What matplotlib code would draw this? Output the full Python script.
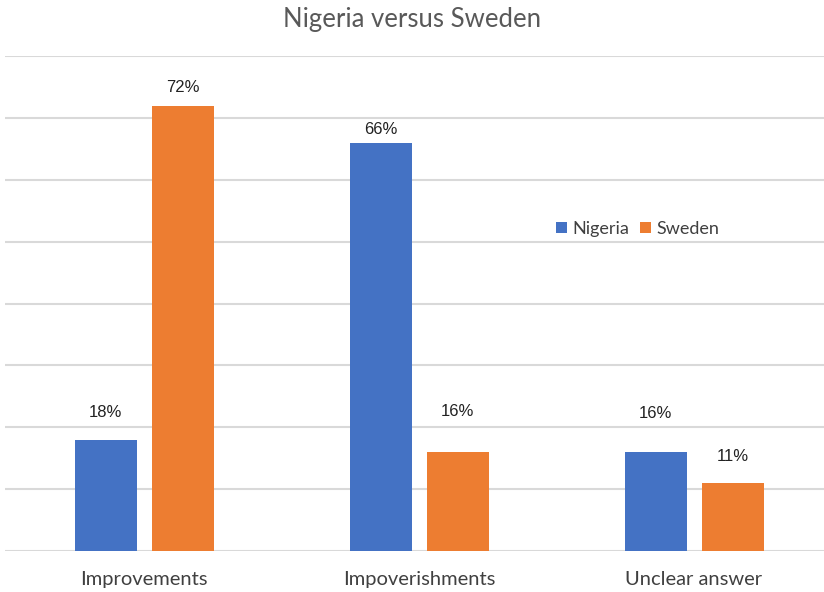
import numpy as np
import matplotlib.pyplot as plt

categories = ['Improvements', 'Impoverishments', 'Unclear answer']
nigeria = [0.18, 0.66, 0.16]
sweden = [0.72, 0.16, 0.11]
nigeria_labels = ['18%', '66%', '16%']
sweden_labels = ['72%', '16%', '11%']
# gap between bar top and label centre, pixels (labels were hand-placed)
nigeria_gap = [27, 13, 39]
sweden_gap = [18, 41, 26]

blue = '#4472C4'
orange = '#ED7D31'

fig = plt.figure(figsize=(8.24, 5.92), dpi=100)
ax = fig.add_axes([5/824, 41/592, 819/824, 495/592])

x = np.arange(len(categories))
w = 0.226
b1 = ax.bar(x - 0.139, nigeria, w, color=blue, label='Nigeria', zorder=3)
b2 = ax.bar(x + 0.141, sweden, w, color=orange, label='Sweden', zorder=3)

for bars, labels, gaps in [(b1, nigeria_labels, nigeria_gap), (b2, sweden_labels, sweden_gap)]:
    for rect, lab, g in zip(bars, labels, gaps):
        ax.annotate(lab, (rect.get_x() + rect.get_width()/2, rect.get_height()),
                    xytext=(0, g), textcoords='offset pixels', ha='center', va='center',
                    fontsize=12, family='Liberation Sans', color='#222222')

ax.set_xlim(-139/275, 680/275)
ax.set_ylim(0, 0.8)
ax.set_yticks(np.arange(0, 0.81, 0.1))
ax.yaxis.grid(True, color='#d9d9d9', linewidth=1.5, zorder=0)
ax.tick_params(axis='y', left=False, labelleft=False)
ax.tick_params(axis='x', bottom=False, pad=11)
ax.set_xticks(x)
ax.set_xticklabels(categories, fontsize=14.5, family='Lato', color='#404040')
for s in ax.spines.values():
    s.set_visible(False)

fig.text(0.5, 1 - 20/592, 'Nigeria versus Sweden', ha='center', va='center',
         fontsize=18.5, family='Lato', color='#595959')

ax.legend(loc='center', bbox_to_anchor=(638/824, 1 - 229/592), bbox_transform=fig.transFigure,
          ncol=2, frameon=False, prop={'family': 'Lato', 'size': 13},
          handlelength=0.6, handleheight=0.6, handletextpad=0.3, columnspacing=0.6,
          labelcolor='#404040')

fig.savefig('out.png', dpi=100)
